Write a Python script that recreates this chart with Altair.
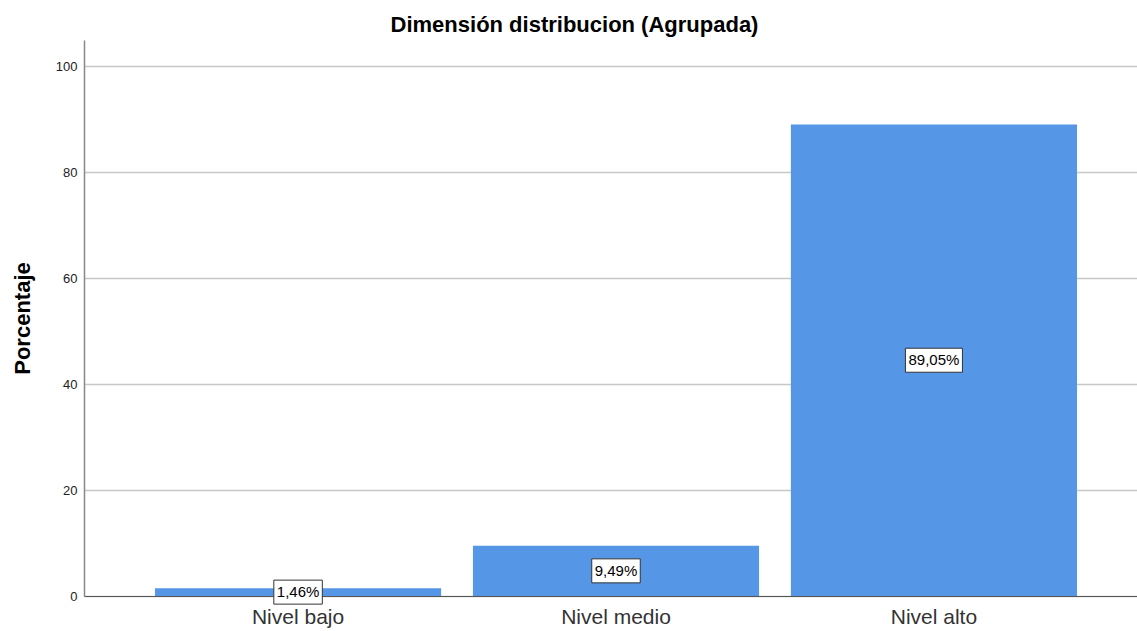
import altair as alt
import pandas as pd

categories = ["Nivel bajo", "Nivel medio", "Nivel alto"]
values = [1.46, 9.49, 89.05]
labels = ["1,46%", "9,49%", "89,05%"]

def box_path(text):
    w = 8.5 * len(text) + 6
    h = 12
    return f"M{-w/2},{-h}H{w/2}V{h}H{-w/2}Z"

df = pd.DataFrame({
    "cat": categories,
    "val": values,
    "lab": labels,
})
df["mid"] = df["val"] / 2
df["box"] = [box_path(t) for t in labels]

FONT = "Liberation Sans"

x_enc = alt.X(
    "cat:N",
    sort=categories,
    title=None,
    scale=alt.Scale(paddingInner=0.1, paddingOuter=0.206, align=0.542),
    axis=alt.Axis(
        labelAngle=0, labelFontSize=21, labelColor="#333333", labelFont=FONT,
        ticks=False, labelPadding=10, domainColor="#555555", domainWidth=1.2,
        grid=False,
    ),
)

bars = alt.Chart(df).mark_bar(color="#5596e6").encode(
    x=x_enc,
    y=alt.Y(
        "val:Q",
        title="Porcentaje",
        scale=alt.Scale(domain=[0, 105], nice=False),
        axis=alt.Axis(
            values=[0, 20, 40, 60, 80, 100], ticks=False, labelPadding=7,
            labelFontSize=13, labelColor="#222222", labelFont=FONT,
            titleFont=FONT, titleFontSize=22, titleFontWeight="bold",
            titleColor="#000000", titlePadding=21,
            domainColor="#888888", domainWidth=1.5,
            grid=True, gridColor="#c8c8c8", gridWidth=1.5,
        ),
    ),
)

boxes = alt.Chart(df).mark_point(
    filled=True, fill="white", stroke="#333333", strokeWidth=1, opacity=1, size=4
).encode(
    x=alt.X("cat:N", sort=categories),
    y=alt.Y("mid:Q"),
    shape=alt.Shape("box:N", scale=None, legend=None),
)

texts = alt.Chart(df).mark_text(
    font=FONT, fontSize=15, color="#000000", baseline="middle", align="center"
).encode(
    x=alt.X("cat:N", sort=categories),
    y=alt.Y("mid:Q"),
    text="lab:N",
)

chart = alt.layer(bars, boxes, texts).properties(
    width=1053,
    height=556,
    background="white",
    title=alt.TitleParams(
        "Dimensión distribucion (Agrupada)", font=FONT, fontSize=22,
        fontWeight="bold", color="#000000", anchor="middle", dx=-36, offset=3,
    ),
    autosize=alt.AutoSizeParams(type="none"),
    padding={"left": 84, "top": 40, "right": 0, "bottom": 35},
).configure_view(strokeWidth=0, stroke="transparent")

chart.save("out.html", embed_options={"renderer": "svg", "actions": False})
